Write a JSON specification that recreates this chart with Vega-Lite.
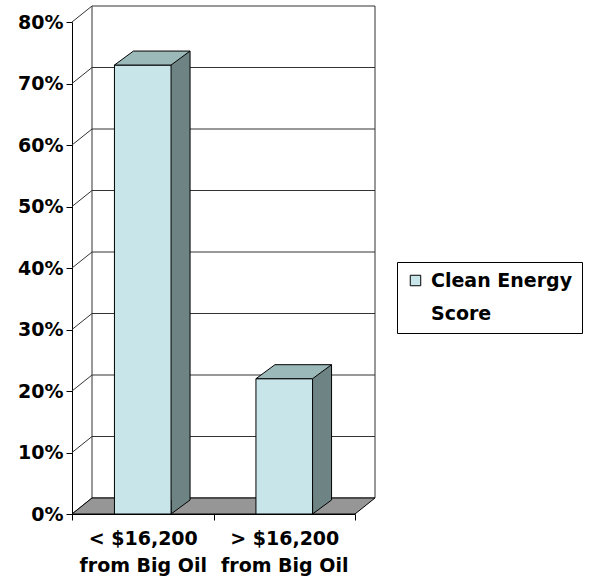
{
  "$schema": "https://vega.github.io/schema/vega-lite/v6.json",
  "width": 283,
  "height": 492,
  "autosize": {"type": "none"},
  "padding": {"left": 72, "top": 22, "right": 234, "bottom": 71},
  "background": "white",
  "datasets": {
    "bars": [
      {"income": "< $16,200 from Big Oil", "share": 0.73, "series": "Clean Energy Score"},
      {"income": "> $16,200 from Big Oil", "share": 0.22, "series": "Clean Energy Score"}
    ],
    "levels": [
      {"level": 0}, {"level": 0.1}, {"level": 0.2}, {"level": 0.3}, {"level": 0.4},
      {"level": 0.5}, {"level": 0.6}, {"level": 0.7}, {"level": 0.8}
    ],
    "frame": [{}]
  },
  "config": {
    "view": {"stroke": null},
    "axis": {"grid": false, "title": null, "domainColor": "black", "tickColor": "black", "labelColor": "black",
             "labelFont": "DejaVu Sans", "labelFontWeight": "bold", "labelFontSize": 19, "labelLimit": 400}
  },
  "layer": [
    {
      "description": "back wall",
      "data": {"name": "frame"},
      "mark": {"type": "rect", "fill": "white", "stroke": "#333333", "strokeWidth": 1,
               "xOffset": 20, "x2Offset": 20, "yOffset": -16, "y2Offset": -16},
      "encoding": {
        "x": {"datum": "< $16,200 from Big Oil", "type": "nominal", "bandPosition": 0, "title": null},
        "x2": {"datum": "> $16,200 from Big Oil", "bandPosition": 1},
        "y": {"datum": 0.8, "type": "quantitative", "title": null},
        "y2": {"datum": 0}
      }
    },
    {
      "description": "gridlines on the back wall",
      "data": {"name": "levels"},
      "transform": [{"filter": "datum.level > 0 && datum.level < 0.8"}],
      "mark": {"type": "rule", "stroke": "#333333", "strokeWidth": 1,
               "xOffset": 20, "x2Offset": 20, "yOffset": -16},
      "encoding": {
        "x": {"datum": "< $16,200 from Big Oil", "type": "nominal", "bandPosition": 0, "title": null},
        "x2": {"datum": "> $16,200 from Big Oil", "bandPosition": 1},
        "y": {"field": "level", "type": "quantitative", "title": null}
      }
    },
    {
      "description": "side wall depth lines",
      "data": {"name": "levels"},
      "mark": {"type": "rule", "stroke": "#333333", "strokeWidth": 1, "x2Offset": 20, "y2Offset": -16},
      "encoding": {
        "x": {"datum": "< $16,200 from Big Oil", "type": "nominal", "bandPosition": 0, "title": null},
        "x2": {"datum": "< $16,200 from Big Oil", "bandPosition": 0},
        "y": {"field": "level", "type": "quantitative", "title": null},
        "y2": {"field": "level"}
      }
    },
    {
      "description": "floor",
      "data": {"name": "frame"},
      "mark": {"type": "point", "shape": "M0,0 L283,0 L303,-16 L20,-16 Z", "size": 4, "filled": true,
               "fill": "#969696", "stroke": "black", "strokeWidth": 1, "opacity": 1},
      "encoding": {
        "x": {"datum": "< $16,200 from Big Oil", "type": "nominal", "bandPosition": 0, "title": null},
        "y": {"datum": 0, "type": "quantitative", "title": null}
      }
    },
    {
      "description": "bar side faces",
      "data": {"name": "bars"},
      "mark": {"type": "bar", "width": 19, "xOffset": 37.8, "yOffset": -14, "y2Offset": -14,
               "fill": "#6e8383", "stroke": null},
      "encoding": {
        "x": {"field": "income", "type": "nominal", "title": null},
        "y": {"field": "share", "type": "quantitative", "stack": null, "title": null},
        "y2": {"datum": 0}
      }
    },
    {
      "description": "lower corner of the side faces",
      "data": {"name": "bars"},
      "mark": {"type": "point", "shape": "M19,-14 L0,0 L0,-14", "size": 4, "filled": true,
               "fill": "#6e8383", "stroke": "black", "strokeWidth": 1, "opacity": 1, "xOffset": 28.3},
      "encoding": {
        "x": {"field": "income", "type": "nominal", "title": null},
        "y": {"datum": 0, "type": "quantitative", "title": null}
      }
    },
    {
      "description": "back edge of the side faces",
      "data": {"name": "bars"},
      "mark": {"type": "rule", "stroke": "black", "strokeWidth": 1, "xOffset": 47.3, "yOffset": -14, "y2Offset": -14},
      "encoding": {
        "x": {"field": "income", "type": "nominal", "title": null},
        "y": {"field": "share", "type": "quantitative", "title": null},
        "y2": {"datum": 0}
      }
    },
    {
      "description": "bar front faces",
      "data": {"name": "bars"},
      "mark": {"type": "bar", "width": {"band": 0.4}, "stroke": "black", "strokeWidth": 1},
      "encoding": {
        "x": {
          "field": "income", "type": "nominal", "title": null,
          "scale": {"domain": ["< $16,200 from Big Oil", "> $16,200 from Big Oil"], "paddingInner": 0, "paddingOuter": 0},
          "axis": {
            "labelAngle": 0, "labelAlign": "center", "tickBand": "extent", "tickSize": 6, "labelPadding": 18, "labelLineHeight": 27,
            "labelExpr": "[substring(datum.label, 0, indexof(datum.label, ' from')), substring(datum.label, indexof(datum.label, ' from') + 1)]"
          }
        },
        "y": {
          "field": "share", "type": "quantitative", "stack": null, "title": null,
          "scale": {"domain": [0, 0.8], "nice": false},
          "axis": {"values": [0, 0.1, 0.2, 0.3, 0.4, 0.5, 0.6, 0.7, 0.8], "format": ".0%", "tickSize": 6, "labelPadding": 3}
        },
        "y2": {"datum": 0},
        "color": {
          "field": "series", "type": "nominal",
          "scale": {"range": ["#c8e6ea"]},
          "legend": {
            "title": null, "orient": "none", "legendX": 325, "legendY": 240,
            "strokeColor": "black", "padding": 9, "symbolType": "square", "symbolSize": 110,
            "symbolStrokeColor": "black", "symbolStrokeWidth": 1, "labelOffset": 6,
            "labelFont": "DejaVu Sans", "labelFontWeight": "bold", "labelFontSize": 19, "labelColor": "black",
            "labelLimit": 300,
            "labelExpr": "[substring(datum.label, 0, indexof(datum.label, ' Score')), substring(datum.label, indexof(datum.label, ' Score') + 1)]",
            "encode": {"labels": {"update": {"lineHeight": {"value": 33}}}}
          }
        }
      }
    },
    {
      "description": "bar top faces",
      "data": {"name": "bars"},
      "mark": {"type": "point", "shape": "M0,0 L56.6,0 L75.6,-14 L19,-14 Z", "size": 4, "filled": true,
               "fill": "#9bb9b9", "stroke": "black", "strokeWidth": 1, "opacity": 1, "xOffset": -28.3},
      "encoding": {
        "x": {"field": "income", "type": "nominal", "title": null},
        "y": {"field": "share", "type": "quantitative", "title": null}
      }
    }
  ]
}
